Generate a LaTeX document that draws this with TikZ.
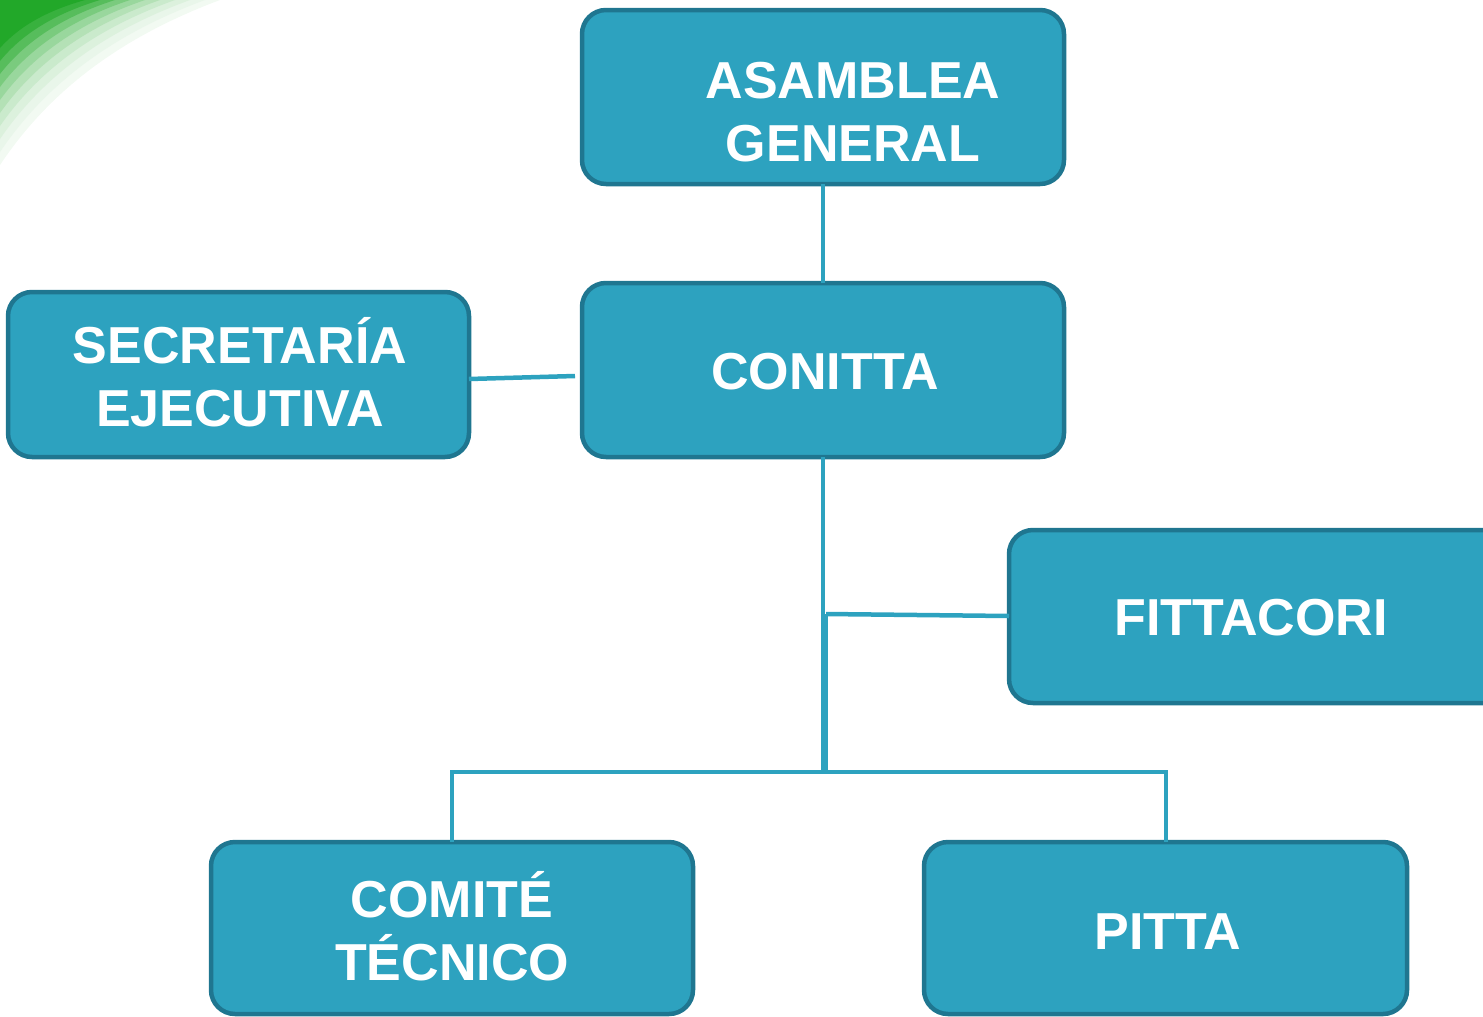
\documentclass[tikz,border=0pt]{standalone}
\usepackage{fontspec}
\setmainfont{Liberation Sans}
\begin{document}
\begin{tikzpicture}[x=1pt,y=-1pt,
  orgbox/.style={draw=boxborder, fill=boxfill, line width=4.5pt, rounded corners=24pt},
  orgtext/.style={text=white, font=\fontsize{52}{63}\selectfont\bfseries, align=center, inner sep=0pt},
  link/.style={draw=boxfill, line width=4.5pt}]
\definecolor{boxfill}{HTML}{2DA2BF}
\definecolor{boxborder}{HTML}{1F7690}
\definecolor{leaf}{HTML}{22A829}
\useasboundingbox (0,0) rectangle (1483,1017);
\clip (0,0) rectangle (1483,1017);
% green swoosh
\foreach \k/\c in {0/6,1/10,2/16,3/24,4/34,5/46,6/60,7/76,8/90,9/100}{
  \pgfmathsetmacro{\a}{220-15*\k}
  \pgfmathsetmacro{\b}{165-13*\k}
  \fill[leaf!\c] (0,0) -- (\a,0) .. controls ({0.6*\a},{0.2*\b}) and ({0.25*\a},{0.5*\b}) .. (0,\b) -- cycle;
}
% boxes
\draw[orgbox] (582,10) rectangle (1064,184);
\node[orgtext] (asam) at (853,112) {ASAMBLEA\\GENERAL};
\coordinate (asamB) at (823,184);
\draw[orgbox] (582,283) rectangle (1064,457);
\node[orgtext] (con) at (825,372) {CONITTA};
\coordinate (conT) at (823,283);
\coordinate (conB) at (823,457);
\coordinate (conL) at (575,376);
\draw[orgbox] (8,292) rectangle (469,457);
\node[orgtext] (sec) at (240,372) {SECRETARÍA\\EJECUTIVA};
\coordinate (secR) at (469,379);
\draw[orgbox] (1009,530) rectangle (1520,703);
\node[orgtext] (fit) at (1251,618) {FITTACORI};
\coordinate (fitL) at (1009,616);
\draw[orgbox] (211,842) rectangle (693,1014);
\node[orgtext] (com) at (452,926) {COMITÉ\\TÉCNICO};
\coordinate (comT) at (452,842);
\draw[orgbox] (924,842) rectangle (1407,1014);
\node[orgtext] (pit) at (1168,932) {PITTA};
\coordinate (pitT) at (1166,842);
% connectors
\coordinate (bus) at (823,772);
\coordinate (tap) at (826,614);
\coordinate (tapB) at (826,772);
\draw[link] (asamB) -- (conT);
\draw[link] (secR) -- (conL);
\draw[link] (conB) -- (bus);
\draw[link] (tap) -- (tapB);
\draw[link] (tap) -- (fitL);
\draw[link] (comT) -- (452,772) -- (1166,772) -- (pitT);
\end{tikzpicture}
\end{document}
